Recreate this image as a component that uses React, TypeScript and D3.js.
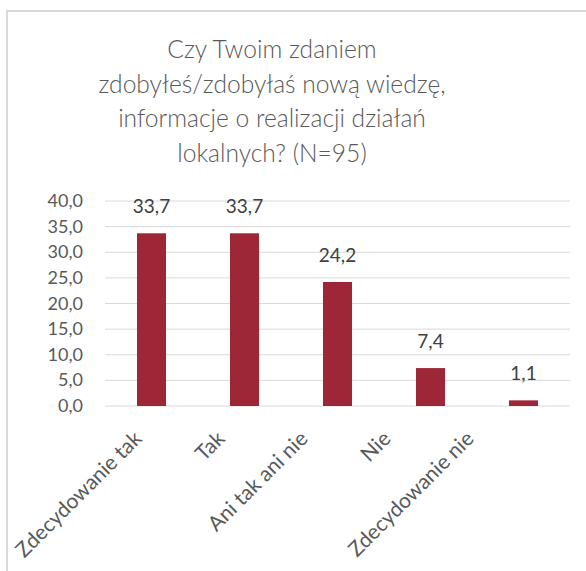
import * as d3 from "d3";

const CATEGORIES = ["Zdecydowanie tak", "Tak", "Ani tak ani nie", "Nie", "Zdecydowanie nie"];
const VALUES = [33.7, 33.7, 24.2, 7.4, 1.1];
const Y_TICKS = [0, 5, 10, 15, 20, 25, 30, 35, 40];
const TITLE_LINES = [
  "Czy Twoim zdaniem",
  "zdobyłeś/zdobyłaś nową wiedzę,",
  "informacje o realizacji działań",
  "lokalnych? (N=95)",
];

const WIDTH = 586;
const HEIGHT = 571;
const PLOT = { left: 105, right: 570, top: 201, bottom: 406 };
const BAR_COLOR = "#9e2737";
const FONT = "Lato, 'Open Sans', sans-serif";

const fmt = (v: number) => v.toFixed(1).replace(".", ",");

const App = () => {
  const x = d3
    .scaleBand()
    .domain(CATEGORIES)
    .range([PLOT.left, PLOT.right])
    .paddingInner(0.688)
    .paddingOuter(0.344);
  const y = d3.scaleLinear().domain([0, 40]).range([PLOT.bottom, PLOT.top]);
  // Excel spaces the rotated category labels a bit tighter than the bars
  const labelX = d3.scalePoint().domain(CATEGORIES).range([143, 475]);

  return (
    <svg
      width={WIDTH}
      height={HEIGHT}
      style={{ position: "absolute", left: 0, top: 0, background: "#fff" }}
      fontFamily={FONT}
    >
      <rect x={7} y={11} width={700} height={700} fill="#fff" stroke="#d9d9d9" strokeWidth={2} />
      <g fill="#595959" fontSize={24.6} fontWeight={300} textAnchor="middle">
        {TITLE_LINES.map((line, i) => (
          <text key={i} x={272} y={58 + i * 34.7}>
            {line}
          </text>
        ))}
      </g>
      <g>
        {Y_TICKS.map((t) => (
          <line key={t} x1={PLOT.left} x2={PLOT.right} y1={y(t)} y2={y(t)} stroke="#d9d9d9" strokeWidth={1} />
        ))}
      </g>
      <g fill="#595959" fontSize={18} textAnchor="end">
        {Y_TICKS.map((t) => (
          <text key={t} x={83} y={y(t) + 6}>
            {fmt(t)}
          </text>
        ))}
      </g>
      <g>
        {CATEGORIES.map((c, i) => (
          <rect
            key={c}
            x={x(c)}
            width={x.bandwidth()}
            y={y(VALUES[i])}
            height={y(0) - y(VALUES[i])}
            fill={BAR_COLOR}
          />
        ))}
      </g>
      <g fill="#404040" fontSize={19} textAnchor="middle">
        {CATEGORIES.map((c, i) => (
          <text key={c} x={(x(c) ?? 0) + x.bandwidth() / 2} y={y(VALUES[i]) - 20}>
            {fmt(VALUES[i])}
          </text>
        ))}
      </g>
      <g fill="#595959" fontSize={21} textAnchor="end">
        {CATEGORIES.map((c) => (
          <text key={c} transform={`translate(${labelX(c)},${PLOT.bottom + 34}) rotate(-45)`}>
            {c}
          </text>
        ))}
      </g>
    </svg>
  );
};

export default App;
